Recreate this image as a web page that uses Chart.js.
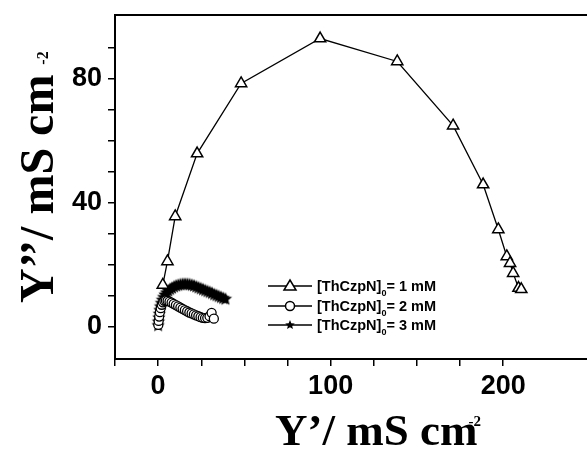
<!DOCTYPE html>
<html>
<head>
<meta charset="utf-8">
<script src="https://cdn.jsdelivr.net/npm/chart.js@4/dist/chart.umd.min.js"></script>
<style>
  html, body { margin: 0; padding: 0; background: #fff; overflow: hidden; }
</style>
</head>
<body>
<canvas id="chart" width="587" height="450"></canvas>
<script>
// ── data ───────────────────────────────────────
const x1mM = [2.7, 5.4, 9.9, 22.6, 48.1, 93.9, 138.6, 171, 188.4, 197.2, 202.1, 204, 205.8, 208.9, 210.5];
const y1mM = [13.4, 21, 35.5, 55.8, 78.4, 92.9, 85.5, 64.8, 45.8, 31.3, 22.6, 20.4, 17.2, 12.4, 12];

const x2mM = [0.1, 0.3, 0.6, 1, 1.5, 2.1, 2.8, 3.6, 4.5, 5.5, 6.6, 7.8, 9, 10.3, 11.6, 12.9, 14.2, 15.5, 16.8, 18.1, 19.4, 20.7, 22, 23.3, 24.6, 25.9, 27.2, 28.5, 29.8, 31, 32.3];
const y2mM = [0.5, 1.8, 3.2, 4.6, 5.9, 7, 7.8, 8.3, 8.4, 8.3, 8, 7.7, 7.3, 6.9, 6.5, 6.1, 5.7, 5.3, 4.9, 4.5, 4.2, 3.9, 3.6, 3.3, 3, 2.8, 2.7, 2.8, 3.3, 4.4, 2.5];

const x3mM = [0, 0.2, 0.4, 0.7, 1, 1.4, 1.9, 2.5, 3.2, 4, 4.9, 5.9, 7, 8.1, 9.3, 10.5, 11.7, 13, 14.3, 15.6, 16.9, 18.2, 19.5, 20.8, 22.1, 23.4, 24.7, 26, 27.3, 28.6, 29.9, 31.2, 32.5, 33.8, 35.1, 36.4, 37.7, 39];
const y3mM = [0.3, 1.5, 2.8, 4, 5.2, 6.4, 7.5, 8.5, 9.4, 10.2, 10.9, 11.5, 12, 12.4, 12.8, 13.1, 13.3, 13.5, 13.6, 13.6, 13.6, 13.5, 13.3, 13.1, 12.8, 12.5, 12.2, 11.9, 11.6, 11.3, 11, 10.7, 10.3, 10, 9.7, 9.4, 9.1, 8.8];

const xTickLabels = [0, 100, 200];
const yTickLabels = [0, 40, 80];
const seriesConc = ['1 mM', '2 mM', '3 mM'];
const speciesName = '[ThCzpN]';
const speciesSub = '0';
const xTitle = 'Y’/ mS cm';
const yTitle = 'Y’’/ mS cm';
const unitSup = '-2';

const pts = (xs, ys) => xs.map((x, i) => ({ x, y: ys[i] }));

// filled five-point star used as marker
function starImage(r) {
  const cv = document.createElement('canvas');
  cv.width = cv.height = Math.ceil(r * 2 + 2);
  const g = cv.getContext('2d');
  const c = cv.width / 2;
  g.beginPath();
  for (let i = 0; i < 10; i++) {
    const a = -Math.PI / 2 + i * Math.PI / 5;
    const rr = i % 2 ? r * 0.45 : r;
    g.lineTo(c + rr * Math.cos(a), c + rr * Math.sin(a));
  }
  g.closePath();
  g.fillStyle = '#000';
  g.fill();
  return cv;
}
const star = starImage(7);

const serif = '"Liberation Serif", "Times New Roman", serif';
const sans = '"Liberation Sans", Arial, sans-serif';

// no edge padding: the frame must reach the canvas edges exactly
const noPad = s => { s.paddingLeft = 0; s.paddingRight = 0; s.paddingTop = 0; s.paddingBottom = 0; };

// axis titles with superscript unit, and the inset legend
const decorations = {
  id: 'decorations',
  afterDraw(chart) {
    const ctx = chart.ctx;
    ctx.save();
    ctx.fillStyle = '#000';
    ctx.textBaseline = 'alphabetic';
    ctx.textAlign = 'left';

    // x title
    ctx.font = 'bold 45px ' + serif;
    ctx.fillText(xTitle, 275, 445);
    let w = ctx.measureText(xTitle).width;
    ctx.font = 'bold 15px ' + serif;
    ctx.fillText(unitSup, 275 + w - 9, 426);

    // y title
    ctx.save();
    ctx.translate(53, 303);
    ctx.rotate(-Math.PI / 2);
    ctx.font = 'bold 48px ' + serif;
    ctx.fillText(yTitle, 0, 0);
    w = ctx.measureText(yTitle).width;
    ctx.font = 'bold 16px ' + serif;
    ctx.fillText(unitSup, w + 10, -5);
    ctx.restore();

    // legend
    const rows = [286, 306, 325];
    rows.forEach((y, i) => {
      ctx.strokeStyle = '#000';
      ctx.lineWidth = 1.3;
      ctx.beginPath();
      ctx.moveTo(268, y);
      ctx.lineTo(312, y);
      ctx.stroke();
      const mx = 290;
      ctx.fillStyle = '#fff';
      ctx.lineWidth = 1.5;
      if (i === 0) {
        ctx.beginPath();
        ctx.moveTo(mx, y - 6);
        ctx.lineTo(mx + 6, y + 4);
        ctx.lineTo(mx - 6, y + 4);
        ctx.closePath();
        ctx.fill();
        ctx.stroke();
      } else if (i === 1) {
        ctx.beginPath();
        ctx.arc(mx, y, 4.5, 0, Math.PI * 2);
        ctx.fill();
        ctx.stroke();
      } else {
        ctx.drawImage(starImage(5), mx - 6, y - 6);
      }
      ctx.fillStyle = '#000';
      ctx.font = 'bold 14.5px ' + sans;
      ctx.fillText(speciesName, 317, y + 5);
      let tx = 317 + ctx.measureText(speciesName).width;
      ctx.font = 'bold 9px ' + sans;
      ctx.fillText(speciesSub, tx, y + 10);
      tx += ctx.measureText(speciesSub).width;
      ctx.font = 'bold 14.5px ' + sans;
      ctx.fillText('= ' + seriesConc[i], tx, y + 5);
    });
    ctx.restore();
  }
};

new Chart(document.getElementById('chart'), {
  type: 'scatter',
  data: {
    datasets: [
      {
        label: speciesName + ' = ' + seriesConc[0],
        data: pts(x1mM, y1mM),
        showLine: true,
        borderColor: '#000',
        borderWidth: 1.3,
        pointStyle: 'triangle',
        pointRadius: 6.5,
        pointBackgroundColor: '#fff',
        pointBorderColor: '#000',
        pointBorderWidth: 1.5,
      },
      {
        label: speciesName + ' = ' + seriesConc[1],
        data: pts(x2mM, y2mM),
        showLine: true,
        borderColor: '#000',
        borderWidth: 1.3,
        pointStyle: 'circle',
        pointRadius: 4.5,
        pointBackgroundColor: '#fff',
        pointBorderColor: '#000',
        pointBorderWidth: 1.3,
      },
      {
        label: speciesName + ' = ' + seriesConc[2],
        data: pts(x3mM, y3mM),
        showLine: true,
        borderColor: '#000',
        borderWidth: 1.3,
        pointStyle: star,
      },
    ],
  },
  options: {
    responsive: false,
    animation: false,
    layout: { padding: 0, autoPadding: false },
    plugins: { legend: { display: false }, tooltip: { enabled: false } },
    scales: {
      x: {
        type: 'linear',
        position: 'bottom',
        min: -25,
        max: 248.6,
        afterBuildTicks: s => { s.ticks = s.ticks.filter(t => t.value % 25 === 0); },
        afterFit: s => { s.height = 91; noPad(s); },
        ticks: {
          stepSize: 25,
          autoSkip: false,
          maxRotation: 0,
          padding: 4,
          color: '#000',
          font: { family: sans, size: 27, weight: 'bold' },
          callback: v => xTickLabels.includes(v) ? String(v) : '',
        },
        grid: { drawOnChartArea: false, tickLength: 7, color: '#000', lineWidth: 1.5 },
        border: { color: '#000', width: 2 },
      },
      xTop: {
        type: 'linear',
        position: 'top',
        min: 0,
        max: 1,
        afterFit: s => { s.height = 15; noPad(s); },
        ticks: { display: false },
        grid: { display: false },
        border: { color: '#000', width: 2 },
      },
      y: {
        type: 'linear',
        min: -10.5,
        max: 100.5,
        afterBuildTicks: s => { s.ticks = s.ticks.filter(t => t.value % 10 === 0); },
        afterFit: s => { s.width = 115; noPad(s); },
        ticks: {
          stepSize: 10,
          autoSkip: false,
          padding: 6,
          color: '#000',
          font: { family: sans, size: 27, weight: 'bold' },
          callback: v => yTickLabels.includes(v) ? String(v) : '',
        },
        grid: { drawOnChartArea: false, tickLength: 7, color: '#000', lineWidth: 1.5 },
        border: { color: '#000', width: 2 },
      },
    },
  },
  plugins: [decorations],
});
</script>
</body>
</html>
